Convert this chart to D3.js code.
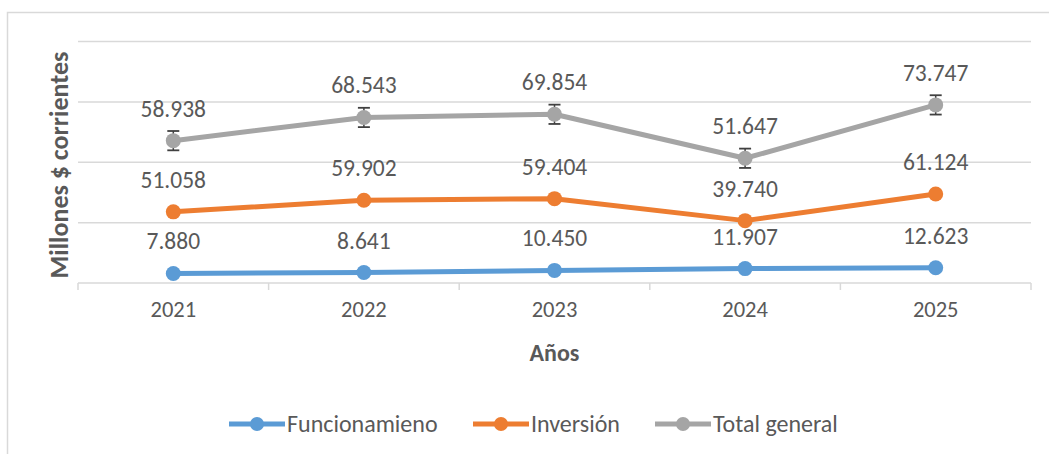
<!DOCTYPE html>
<html>
<head>
<meta charset="utf-8">
<title>Line Chart</title>
<script src="https://cdn.jsdelivr.net/npm/d3@7"></script>
<style>
  body { margin: 0; background: #fff; }
  text { font-family: Carlito, Calibri, Lato, sans-serif; fill: #595959; }
</style>
</head>
<body>
<script>
var years = ["2021", "2022", "2023", "2024", "2025"];
var funcionamiento = [7.880, 8.641, 10.450, 11.907, 12.623];
var inversion = [51.058, 59.902, 59.404, 39.740, 61.124];
var totalGeneral = [58.938, 68.543, 69.854, 51.647, 73.747];
var errorTotal = [8, 8, 8, 8, 8];
var gridValues = [0, 50, 100, 150, 200];

var seriesNames = ["Funcionamieno", "Inversión", "Total general"];
var seriesValues = [funcionamiento, inversion, totalGeneral];
var colors = ["#5B9BD5", "#ED7D31", "#A5A5A5"];

var width = 1049, height = 454;
var fmt = function(v) { return v.toFixed(3); };

var svg = d3.select("body").append("svg")
    .attr("width", width)
    .attr("height", height);

svg.append("rect")
    .attr("x", 7.5).attr("y", 12.5)
    .attr("width", 1100).attr("height", 500)
    .attr("fill", "#fff")
    .attr("stroke", "#D9D9D9")
    .attr("stroke-width", 1.5);

var x = d3.scaleBand()
    .domain(years)
    .range([78, 1031]);

var y = d3.scaleLinear()
    .domain([0, 200])
    .range([283, 41.5]);

// gridlines
svg.selectAll(".grid")
    .data(gridValues.slice(1))
    .enter().append("line")
    .attr("class", "grid")
    .attr("x1", 78).attr("x2", 1031)
    .attr("y1", function(d) { return y(d); })
    .attr("y2", function(d) { return y(d); })
    .attr("stroke", "#D9D9D9")
    .attr("stroke-width", 1.5);

// category axis
var xAxis = d3.axisBottom(x).tickSize(0).tickPadding(18);
var gx = svg.append("g")
    .attr("transform", "translate(0," + y(0) + ")")
    .call(xAxis);
gx.select(".domain").remove();
gx.selectAll("text")
    .style("font-size", "22.5px")
    .attr("fill", "#595959");

svg.append("line")
    .attr("x1", 78).attr("x2", 1031)
    .attr("y1", y(0)).attr("y2", y(0))
    .attr("stroke", "#D9D9D9")
    .attr("stroke-width", 1.5);

var bounds = years.map(function(d) { return x(d); }).concat([x(years[years.length - 1]) + x.bandwidth()]);
svg.selectAll(".xtick")
    .data(bounds)
    .enter().append("line")
    .attr("x1", function(d) { return d; })
    .attr("x2", function(d) { return d; })
    .attr("y1", y(0)).attr("y2", y(0) + 7)
    .attr("stroke", "#D9D9D9")
    .attr("stroke-width", 1.5);

// axis titles
svg.append("text")
    .attr("x", x("2023") + x.bandwidth() / 2)
    .attr("y", 361)
    .attr("text-anchor", "middle")
    .style("font-size", "24px")
    .style("font-weight", "bold")
    .text("Años");

svg.append("text")
    .attr("transform", "translate(68,165) rotate(-90)")
    .attr("text-anchor", "middle")
    .style("font-size", "26px")
    .style("font-weight", "bold")
    .text("Millones $ corrientes");

// stacked values
var stacked = [];
var running = years.map(function() { return 0; });
seriesValues.forEach(function(vals) {
    running = running.map(function(r, i) { return r + vals[i]; });
    stacked.push(running.slice());
});

var cx = function(i) { return x(years[i]) + x.bandwidth() / 2; };

var line = d3.line()
    .x(function(d, i) { return cx(i); })
    .y(function(d) { return y(d); });

stacked.forEach(function(vals, s) {
    svg.append("path")
        .datum(vals)
        .attr("d", line)
        .attr("fill", "none")
        .attr("stroke", colors[s])
        .attr("stroke-width", 5)
        .attr("stroke-linejoin", "round");
});

// error bars on total
var totalStack = stacked[2];
var eb = svg.selectAll(".err")
    .data(totalStack)
    .enter().append("g")
    .attr("class", "err");
eb.append("line")
    .attr("x1", function(d, i) { return cx(i); })
    .attr("x2", function(d, i) { return cx(i); })
    .attr("y1", function(d, i) { return y(d - errorTotal[i]); })
    .attr("y2", function(d, i) { return y(d + errorTotal[i]); })
    .attr("stroke", "#404040").attr("stroke-width", 1.5);
[-1, 1].forEach(function(sign) {
    eb.append("line")
        .attr("x1", function(d, i) { return cx(i) - 6; })
        .attr("x2", function(d, i) { return cx(i) + 6; })
        .attr("y1", function(d, i) { return y(d + sign * errorTotal[i]); })
        .attr("y2", function(d, i) { return y(d + sign * errorTotal[i]); })
        .attr("stroke", "#404040").attr("stroke-width", 1.8);
});

// markers and labels
stacked.forEach(function(vals, s) {
    svg.selectAll(".m" + s)
        .data(vals)
        .enter().append("circle")
        .attr("cx", function(d, i) { return cx(i); })
        .attr("cy", function(d) { return y(d); })
        .attr("r", 7.5)
        .attr("fill", colors[s]);

    svg.selectAll(".l" + s)
        .data(seriesValues[s])
        .enter().append("text")
        .attr("x", function(d, i) { return cx(i); })
        .attr("y", function(d, i) { return y(vals[i]) - 24; })
        .attr("text-anchor", "middle")
        .style("font-size", "23.5px")
        .text(function(d) { return fmt(d); });
});

// legend
var legendX = [229, 473, 655];
var legend = svg.selectAll(".legend")
    .data(seriesNames)
    .enter().append("g")
    .attr("transform", function(d, i) { return "translate(" + legendX[i] + ",424)"; });
legend.append("line")
    .attr("x1", 0).attr("x2", 56)
    .attr("stroke", function(d, i) { return colors[i]; })
    .attr("stroke-width", 5);
legend.append("circle")
    .attr("cx", 28).attr("r", 7)
    .attr("fill", function(d, i) { return colors[i]; });
legend.append("text")
    .attr("x", 58).attr("y", 8)
    .style("font-size", "24px")
    .text(function(d) { return d; });
</script>
</body>
</html>
